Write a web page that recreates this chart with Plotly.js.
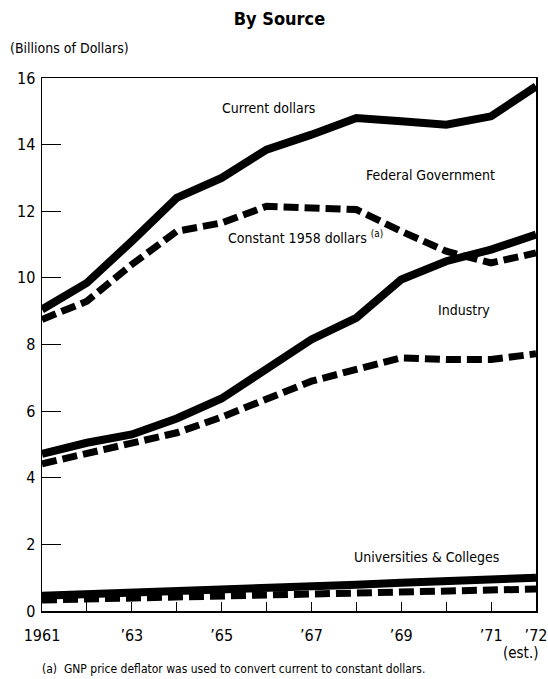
<!DOCTYPE html>
<html>
<head>
<meta charset="utf-8">
<script src="https://cdn.plot.ly/plotly-3.0.1.min.js"></script>
<style>html,body{margin:0;padding:0;background:#fff;}#chart{width:548px;height:679px;}</style>
</head>
<body>
<div id="chart"></div>
<script>
const years = [1961,1962,1963,1964,1965,1966,1967,1968,1969,1970,1971,1972];
const fedCurrent  = [9.05,9.85,11.1,12.4,13.0,13.85,14.3,14.8,14.7,14.6,14.85,15.75];
const fedConstant = [8.75,9.3,10.4,11.4,11.65,12.15,12.1,12.05,11.4,10.8,10.45,10.75];
const indCurrent  = [4.72,5.05,5.3,5.78,6.38,7.3,8.15,8.8,9.95,10.5,10.85,11.3];
const indConstant = [4.42,4.72,5.0,5.35,5.82,6.38,6.9,7.25,7.6,7.55,7.55,7.72];
const uniCurrent  = [0.46,0.5,0.53,0.57,0.61,0.67,0.73,0.79,0.85,0.9,0.95,1.0];
const uniConstant = [0.33,0.36,0.39,0.41,0.43,0.45,0.48,0.52,0.56,0.6,0.63,0.66];
const xTickVals = [1961,1963,1965,1967,1969,1971,1972];
const xTickText = ['1961','\u201963','\u201965','\u201967','\u201969','\u201971','\u201972'];
const xMinorTickVals = [1962,1964,1966,1968,1970];
const yTickVals = [0,2,4,6,8,10,12,14,16];

const FONT = '"Liberation Sans Narrow", "DejaVu Sans Condensed", "Arial Narrow", "Roboto Condensed", sans-serif';
const solid = {color:'#000', width:8};
const dashed = {color:'#000', width:7, dash:'15px,6px'};

const traces = [
  {x:years, y:uniConstant, mode:'lines', line:dashed, name:'Universities constant'},
  {x:years, y:uniCurrent, mode:'lines', line:solid, name:'Universities current'},
  {x:years, y:indConstant, mode:'lines', line:dashed, name:'Industry constant'},
  {x:years, y:indCurrent, mode:'lines', line:solid, name:'Industry current'},
  {x:years, y:fedConstant, mode:'lines', line:dashed, name:'Federal constant'},
  {x:years, y:fedCurrent, mode:'lines', line:solid, name:'Federal current'}
];

const W = 548-42-12, H = 679-78-68;
const px = (x)=> (x-42)/W, py = (y)=> (679-68-y)/H;
const ann = (text, x, y, size, extra) => Object.assign({text:text, x:px(x), y:py(y), xref:'paper', yref:'paper', xanchor:'center', yanchor:'middle', showarrow:false, font:{family:FONT, size:size, color:'#000'}}, extra||{});

const layout = {
  width:548, height:679,
  margin:{l:42, r:12, t:78, b:68},
  paper_bgcolor:'#fff', plot_bgcolor:'#fff',
  showlegend:false,
  font:{family:FONT, color:'#000'},
  title:{text:'<b>By Source</b>', x:0.51, xanchor:'center', y:0.973, yanchor:'middle', font:{family:FONT, size:18, color:'#000'}},
  xaxis:{range:[1961,1972], tickmode:'array', tickvals:xTickVals, ticktext:xTickText,
    ticks:'inside', ticklen:9, tickwidth:1, tickcolor:'#000', ticklabelstandoff:9,
    minor:{tickmode:'array', tickvals:xMinorTickVals, ticks:'inside', ticklen:9, tickwidth:1, tickcolor:'#000', showgrid:false},
    showline:true, linecolor:'#000', linewidth:1.5, mirror:true, showgrid:false, zeroline:false,
    tickfont:{family:FONT, size:16, color:'#000'}, fixedrange:true},
  yaxis:{range:[0,16], tickmode:'array', tickvals:yTickVals,
    ticks:'inside', ticklen:19, tickwidth:1, tickcolor:'#000', ticklabelstandoff:2,
    showline:true, linecolor:'#000', linewidth:1.5, mirror:true, showgrid:false, zeroline:false,
    tickfont:{family:FONT, size:16, color:'#000'}, fixedrange:true},
  annotations:[
    ann('(Billions of Dollars)', 8, 48, 14, {xanchor:'left'}),
    ann('Current dollars', 268, 108, 14),
    ann('Federal Government', 430, 175, 14),
    ann('Constant 1958 dollars <sup>(a)</sup>', 305, 237, 14),
    ann('Industry', 464, 310, 14),
    ann('Universities & Colleges', 426, 557, 14),
    ann('(est.)', 520, 653, 15),
    ann('(a)  GNP price deflator was used to convert current to constant dollars.', 40, 669, 12, {xanchor:'left'})
  ]
};

Plotly.newPlot('chart', traces, layout, {displayModeBar:false, staticPlot:true});
</script>
</body>
</html>
